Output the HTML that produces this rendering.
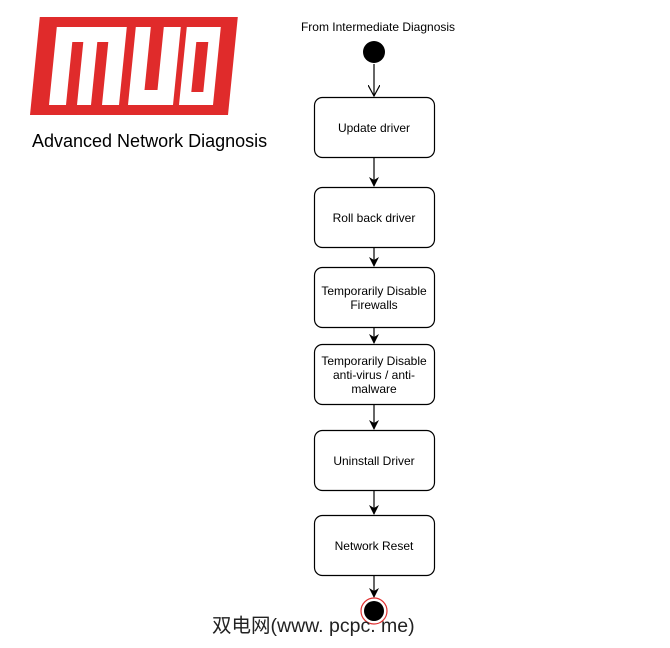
<!DOCTYPE html>
<html><head><meta charset="utf-8"><style>
html,body{margin:0;padding:0;background:#fff;}
svg{display:block;}
text{font-family:"Liberation Sans",Arial,sans-serif;fill:#000;}
</style></head><body>
<svg width="670" height="648" viewBox="0 0 670 648" xmlns="http://www.w3.org/2000/svg">
<defs>
<marker id="fa" markerWidth="10" markerHeight="10" refX="9" refY="5" orient="auto" markerUnits="userSpaceOnUse"><path d="M0,0 L10,5 L0,10 L3,5 Z" fill="#000"/></marker>
<marker id="oa" markerWidth="12" markerHeight="12" refX="11" refY="6" orient="auto" markerUnits="userSpaceOnUse"><path d="M0,0 L11,6 L0,12" fill="none" stroke="#000" stroke-width="1.2"/></marker>
</defs>
<!-- logo -->
<g transform="matrix(1,0,-0.1,1,11.5,0)">
<rect x="30" y="17" width="198" height="98" fill="#e02b2b"/>
<rect x="48" y="27" width="70" height="78" fill="#fff"/>
<rect x="65" y="42" width="11" height="63" fill="#e02b2b"/>
<rect x="90" y="42" width="11" height="63" fill="#e02b2b"/>
<rect x="127" y="27" width="45" height="78" fill="#fff"/>
<rect x="142" y="27" width="13" height="63" fill="#e02b2b"/>
<rect x="178" y="27" width="34" height="78" fill="#fff"/>
<rect x="189" y="42" width="12" height="50" fill="#e02b2b"/>
</g>
<text x="32" y="147" font-size="18">Advanced Network Diagnosis</text>
<!-- diagram -->
<text x="378" y="31" font-size="12" text-anchor="middle">From Intermediate Diagnosis</text>
<circle cx="374" cy="52" r="11" fill="#000"/>
<g stroke="#000" stroke-width="1.2">
<line x1="374" y1="64" x2="374" y2="96" marker-end="url(#oa)"/>
<line x1="374" y1="157" x2="374" y2="186" marker-end="url(#fa)"/>
<line x1="374" y1="247" x2="374" y2="266" marker-end="url(#fa)"/>
<line x1="374" y1="327" x2="374" y2="343" marker-end="url(#fa)"/>
<line x1="374" y1="404" x2="374" y2="429" marker-end="url(#fa)"/>
<line x1="374" y1="490" x2="374" y2="514" marker-end="url(#fa)"/>
<line x1="374" y1="575" x2="374" y2="597" marker-end="url(#fa)"/>
</g>
<g fill="#fff" stroke="#000" stroke-width="1.2">
<rect x="314.5" y="97.5" width="120" height="60" rx="8"/>
<rect x="314.5" y="187.5" width="120" height="60" rx="8"/>
<rect x="314.5" y="267.5" width="120" height="60" rx="8"/>
<rect x="314.5" y="344.5" width="120" height="60" rx="8"/>
<rect x="314.5" y="430.5" width="120" height="60" rx="8"/>
<rect x="314.5" y="515.5" width="120" height="60" rx="8"/>
</g>
<g font-size="12" text-anchor="middle">
<text x="374" y="132">Update driver</text>
<text x="374" y="222">Roll back driver</text>
<text x="374" y="295">Temporarily Disable</text>
<text x="374" y="309">Firewalls</text>
<text x="374" y="365">Temporarily Disable</text>
<text x="374" y="379">anti-virus / anti-</text>
<text x="374" y="393">malware</text>
<text x="374" y="465">Uninstall Driver</text>
<text x="374" y="550">Network Reset</text>
</g>
<circle cx="374" cy="611" r="13" fill="#fff" stroke="#e03030" stroke-width="1.2"/>
<circle cx="374" cy="611" r="10" fill="#000"/>
<text x="212" y="632" font-size="19.5" style="font-family:'Liberation Sans','Noto Sans CJK SC',sans-serif;fill:#222">双电网(www. pcpc. me)</text>
</svg>
</body></html>
